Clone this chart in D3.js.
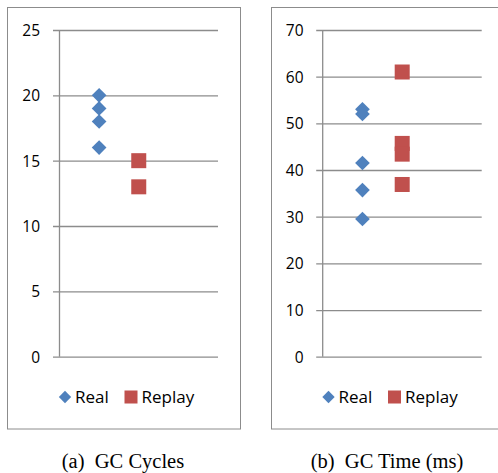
<!DOCTYPE html>
<html><head><meta charset="utf-8">
<script src="https://cdn.jsdelivr.net/npm/d3@7"></script>
<style>body{margin:0;background:#fff}svg{display:block}</style>
</head><body>
<script>
const seriesNames = ["Real", "Replay"];
const seriesColors = ["#4F81BD", "#C0504D"];
const cyclesReal = [20, 19, 18, 16];
const cyclesReplay = [15, 13];
const timeReal = [53, 52, 41.5, 35.7, 29.5];
const timeReplay = [61, 45.7, 43.4, 36.9];
const cyclesTicks = [0, 5, 10, 15, 20, 25];
const timeTicks = [0, 10, 20, 30, 40, 50, 60, 70];
const captions = ["(a)  GC Cycles", "(b)  GC Time (ms)"];

const W = 498, H = 473;
const svg = d3.select("body").append("svg").attr("width", W).attr("height", H);

const panels = [
  {box:[7.5, 7.5, 233, 421.5], px0:59.5, px1:218, lab:40, ymax:25, ticks:cyclesTicks, data:[cyclesReal, cyclesReplay], cap:captions[0], capX:123, legX:65},
  {box:[271.5, 7.5, 240, 421.5], px0:322.7, px1:481.7, lab:303.5, ymax:70, ticks:timeTicks, data:[timeReal, timeReplay], cap:captions[1], capX:387, legX:328.5}
];
const font = "'Open Sans', Lato, sans-serif";

panels.forEach(p => {
  const g = svg.append("g");
  g.append("rect").attr("x", p.box[0]).attr("y", p.box[1]).attr("width", p.box[2]).attr("height", p.box[3])
    .attr("fill", "none").attr("stroke", "#8c8c8c").attr("stroke-width", 1);
  const y = d3.scaleLinear().domain([0, p.ymax]).range([356.7, 30]);
  const x = d3.scaleLinear().domain([0, 4]).range([p.px0, p.px1]);
  const axis = d3.axisLeft(y).tickValues(p.ticks).tickSize(-(p.px1 - p.px0)).tickPadding(0).tickFormat(d3.format("d"));
  const ag = g.append("g").attr("transform", `translate(${p.px0},0)`).call(axis);
  ag.select(".domain").remove();
  ag.selectAll(".tick line").attr("stroke", "#8c8c8c").attr("stroke-width", 1.3).attr("x1", -6.5);
  ag.selectAll(".tick text").attr("x", p.lab - p.px0).attr("dy", "0.35em").attr("font-family", font).attr("font-size", 15.5).attr("fill", "#000");
  g.append("line").attr("x1", p.px0).attr("x2", p.px0).attr("y1", y(p.ymax)).attr("y2", y(0)).attr("stroke", "#8c8c8c").attr("stroke-width", 1.3);
  const diamond = d3.symbol().type(d3.symbolSquare).size(108);
  g.selectAll(".real").data(p.data[0]).enter().append("path")
    .attr("d", diamond).attr("transform", d => `translate(${x(1)},${y(d)}) rotate(45)`).attr("fill", seriesColors[0]);
  g.selectAll(".rep").data(p.data[1]).enter().append("rect")
    .attr("x", x(2) - 7.5).attr("y", d => y(d) - 7.5).attr("width", 15).attr("height", 15).attr("fill", seriesColors[1]);
  // legend
  const ly = 397;
  g.append("path").attr("d", d3.symbol().type(d3.symbolSquare).size(76)).attr("transform", `translate(${p.legX},${ly}) rotate(45)`).attr("fill", seriesColors[0]);
  g.append("text").attr("x", p.legX + 10).attr("y", ly).attr("dy", "0.35em").attr("font-family", font).attr("font-size", 17).text(seriesNames[0]);
  g.append("rect").attr("x", p.legX + 59.5).attr("y", ly - 6.5).attr("width", 13).attr("height", 13).attr("fill", seriesColors[1]);
  g.append("text").attr("x", p.legX + 76.5).attr("y", ly).attr("dy", "0.35em").attr("font-family", font).attr("font-size", 17).text(seriesNames[1]);
  g.append("text").attr("x", p.capX).attr("y", 468).attr("text-anchor", "middle").attr("font-family", "'Liberation Serif', serif").attr("font-size", 20.5).style("white-space", "pre").text(p.cap);
});
</script>
</body></html>
